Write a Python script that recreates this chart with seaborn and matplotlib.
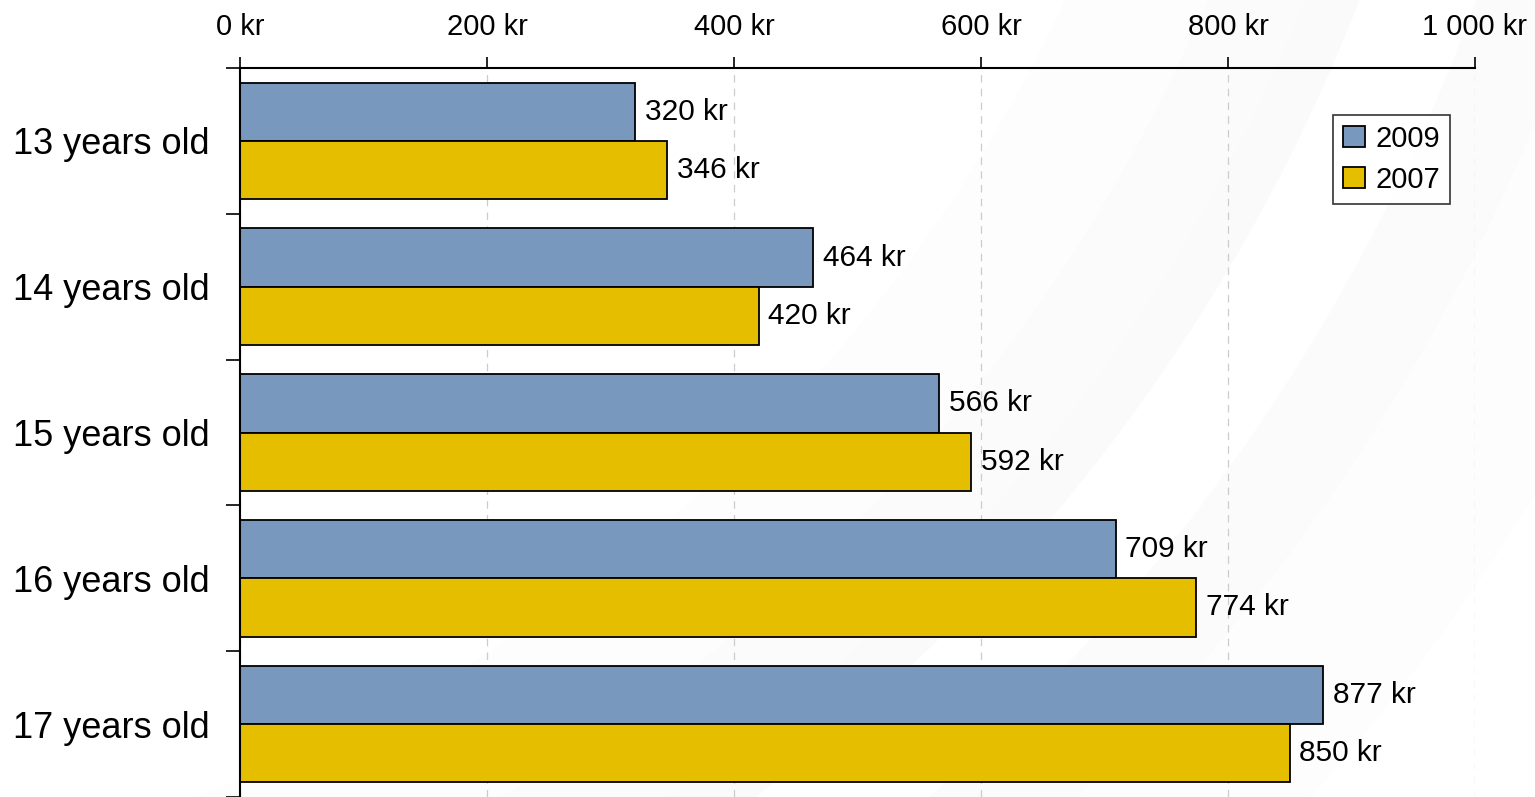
import numpy as np
import pandas as pd
import matplotlib
matplotlib.use("Agg")
import matplotlib.pyplot as plt
from matplotlib.patches import Wedge
from matplotlib.ticker import FuncFormatter, FixedLocator
import seaborn as sns

################# Data #################
ages = ["13 years old", "14 years old", "15 years old", "16 years old", "17 years old"]
years = ["2009", "2007"]
values_2009 = [320, 464, 566, 709, 877]
values_2007 = [346, 420, 592, 774, 850]
x_ticks = [0, 200, 400, 600, 800, 1000]

df = pd.DataFrame({
    "age": ages * 2,
    "year": ["2009"] * len(ages) + ["2007"] * len(ages),
    "amount": values_2009 + values_2007,
})

palette = {"2009": "#7899bd", "2007": "#e6be00"}

################# Plot #################
sns.set_theme(style="white")
plt.rcParams["font.family"] = ["Liberation Sans", "DejaVu Sans"]
plt.rcParams["text.color"] = "black"
plt.rcParams["xtick.color"] = "black"
plt.rcParams["ytick.color"] = "black"

fig = plt.figure(figsize=(15.35, 7.97), dpi=100)

# faint background swoosh (pixel coords)
bg = fig.add_axes([0, 0, 1, 1], zorder=0)
bg.set_xlim(0, 1535)
bg.set_ylim(797, 0)
bg.axis("off")
cx, cy = -338, -659
for r0, r1, a in [(1550, 1680, 0.008), (1680, 1770, 0.014), (1770, 1821, 0.02),
                  (1930, 2030, 0.016), (2030, 2200, 0.008)]:
    bg.add_patch(Wedge((cx, cy), r1, 0, 360, width=r1 - r0, color="#000000",
                       alpha=a, linewidth=0))

ax = fig.add_axes([240 / 1535, 0.0, (1475 - 240) / 1535, 1 - 68 / 797], zorder=1)
ax.set_facecolor("none")

sns.barplot(data=df, x="amount", y="age", hue="year", hue_order=years,
            order=ages, palette=palette, orient="h", width=0.8,
            edgecolor="black", linewidth=1.3, saturation=1, ax=ax)

for cont in ax.containers:
    ax.bar_label(cont, labels=[f"{int(v)} kr" for v in cont.datavalues],
                 padding=7, fontsize=21.5, color="black")

ax.set_xlim(0, 1000)
ax.set_ylim(len(ages) - 0.5, -0.5)

ax.xaxis.tick_top()
ax.xaxis.set_major_locator(FixedLocator(x_ticks))
ax.xaxis.set_major_formatter(FuncFormatter(lambda v, p: f"{int(v):,} kr".replace(",", " ")))
ax.tick_params(axis="x", which="major", top=True, bottom=False, length=8,
               width=1.2, direction="out", color="black", labelsize=21, pad=11.5,
               labelcolor="black")

ax.yaxis.set_minor_locator(FixedLocator(np.arange(-0.5, len(ages), 1)))
ax.tick_params(axis="y", which="major", left=False, length=0, labelsize=26, pad=22,
               labelcolor="black")
ax.tick_params(axis="y", which="minor", left=True, length=10, width=1.2,
               direction="out", color="black")

ax.grid(axis="x", linestyle=(0, (6, 5)), color="#cccccc", linewidth=0.9)
ax.set_axisbelow(True)

for side in ["right", "bottom"]:
    ax.spines[side].set_visible(False)
for side in ["left", "top"]:
    ax.spines[side].set_color("black")
    ax.spines[side].set_linewidth(1.5)

ax.set_xlabel("")
ax.set_ylabel("")

leg = ax.legend(title=None, loc="upper right", bbox_to_anchor=(0.98, 0.936),
                fontsize=21, frameon=True, fancybox=False, handlelength=0.75,
                handleheight=0.75, handletextpad=0.35, labelspacing=0.45,
                borderpad=0.35, borderaxespad=0)
leg.get_frame().set_edgecolor("black")
leg.get_frame().set_linewidth(1.2)
for t in leg.get_texts():
    t.set_color("black")

plt.savefig("out.png", dpi=100)
plt.close()
